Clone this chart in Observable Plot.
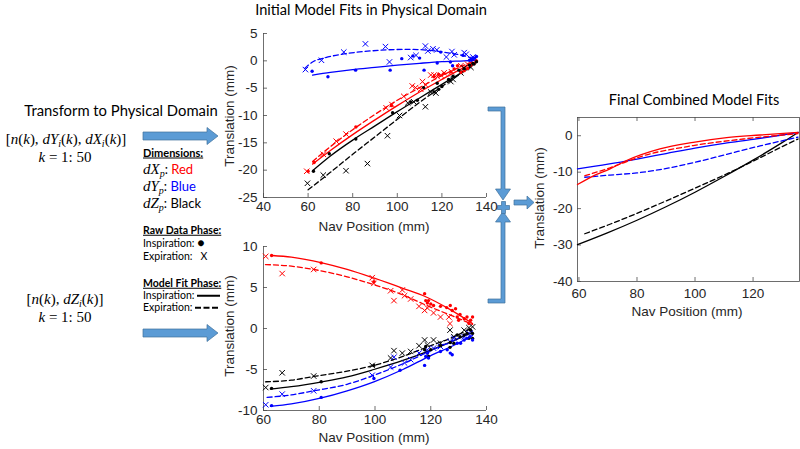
<!DOCTYPE html>
<html><head><meta charset="utf-8">
<script src="https://cdn.jsdelivr.net/npm/d3@7"></script>
<script src="https://cdn.jsdelivr.net/npm/@observablehq/plot@0.6"></script>
<style>
html,body{margin:0;padding:0;background:#fff;}
#root{position:relative;width:800px;height:449px;overflow:hidden;background:#fff;}
.t{position:absolute;white-space:nowrap;line-height:1;}
.c{transform:translate(-50%,-50%);}
.l{transform:translate(0,-50%);}
.cal{font-family:Lato,"Open Sans",sans-serif;color:#000;}
.ari{font-family:"Liberation Sans",Arial,sans-serif;color:#262626;font-size:13px;}
.math{font-family:"Liberation Serif","DejaVu Serif",serif;font-size:15px;line-height:1;}
.math sub,.sb{font-size:10px;line-height:0;vertical-align:baseline;position:relative;top:0.3em;}
.rot{transform:translate(-50%,-50%) rotate(-90deg);}
.hd{font-size:10.5px;font-weight:700;text-decoration:underline;}
.sm{font-size:10.5px;}
</style></head>
<body><div id="root">
<svg width="800" height="449" style="position:absolute;left:0;top:0">
 <g fill="#5b9bd5" stroke="#41719c" stroke-width="0.7">
  <path d="M143,132 H207 V127.5 L218,136 L207,144.5 V140 H143 Z"/>
  <path d="M143,329 H207 V324.5 L218,333 L207,341.5 V337 H143 Z"/>
  <path d="M488,107 H505 V189 H510.5 L503,200 L495.5,189 H501 V111 H488 Z"/>
  <path d="M488,303 H505 V222 H510.5 L503,211.5 L495.5,222 H501 V299 H488 Z"/>
  <path d="M501.5,201.5 h4 v4 h4 v4 h-4 v4 h-4 v-4 h-4 v-4 h4 z"/>
  <path d="M514,200 H527 V196 L534,202.5 L527,209 V205 H514 Z"/>
 </g>
</svg>
<div class="t cal c" style="left:371px;top:10px;font-size:14.6px">Initial Model Fits in Physical Domain</div>
<div class="t cal c" style="left:121px;top:110px;font-size:14.8px">Transform to Physical Domain</div>
<div class="t cal c" style="left:694px;top:100px;font-size:14.5px">Final Combined Model Fits</div>

<div class="t math c" style="left:66px;top:139px">[<i>n</i>(<i>k</i>), <i>dY<sub>i</sub></i>(<i>k</i>), <i>dX<sub>i</sub></i>(<i>k</i>)]</div>
<div class="t math c" style="left:65px;top:157px"><i>k</i> = 1: 50</div>
<div class="t math c" style="left:65px;top:299px">[<i>n</i>(<i>k</i>), <i>dZ<sub>i</sub></i>(<i>k</i>)]</div>
<div class="t math c" style="left:65px;top:317px"><i>k</i> = 1: 50</div>

<div class="t cal l hd" style="left:143px;top:152px;font-size:11px">Dimensions:</div>
<div class="t cal l" style="left:143px;top:169px;font-size:13px"><span class="math"><i>dX<span class="sb">p</span></i></span>: <span style="color:#ff0000">Red</span></div>
<div class="t cal l" style="left:143px;top:186px;font-size:13px"><span class="math"><i>dY<span class="sb">p</span></i></span>: <span style="color:#0000ff">Blue</span></div>
<div class="t cal l" style="left:143px;top:203px;font-size:13px"><span class="math"><i>dZ<span class="sb">p</span></i></span>: Black</div>
<div class="t cal l hd" style="left:143px;top:230px">Raw Data Phase:</div>
<div class="t cal l sm" style="left:143px;top:243px">Inspiration: <span style="font-size:12px">●</span></div>
<div class="t cal l sm" style="left:143px;top:256px">Expiration:&nbsp;&nbsp; X</div>
<div class="t cal l hd" style="left:143px;top:283px">Model Fit Phase:</div>
<div class="t cal l sm" style="left:143px;top:295px">Inspiration: <span style="display:inline-block;width:23px;border-bottom:2px solid #000;vertical-align:middle"></span></div>
<div class="t cal l sm" style="left:143px;top:307px">Expiration: <span style="display:inline-block;width:23px;border-bottom:2px dashed #000;vertical-align:middle"></span></div>

<div class="t ari c" style="left:374px;top:227px;font-size:13.5px">Nav Position (mm)</div>
<div class="t ari c" style="left:374px;top:438px;font-size:13.5px">Nav Position (mm)</div>
<div class="t ari c" style="left:687px;top:312px;font-size:13.5px">Nav Position (mm)</div>
<div class="t ari rot" style="left:230px;top:116px;font-size:13.5px">Translation (mm)</div>
<div class="t ari rot" style="left:230px;top:326px;font-size:13.5px">Translation (mm)</div>
<div class="t ari rot" style="left:540px;top:198px;font-size:13.5px">Translation (mm)</div>
</div>
<script>
const RED="#ff0000", BLUE="#0000ff", BLACK="#000000";

// ---- Top panel (dX, dY, dZ vs Nav) ----
const xTicksTop=[40,60,80,100,120,140], yTicksTop=[-25,-20,-15,-10,-5,0,5];
const topRedIn=[[60,-20.2],[62.7,-18.6],[81.4,-12.1],[97.4,-8.2],[116.4,-2.9],[118.5,-2.5],[121,-2.3],[124,-2.0],[125.5,-1.5],[127,-0.9],[128.5,-2.1],[130,-1.8],[131.5,-1.4],[133,-0.8],[134.5,-0.5],[135.5,0]];
const topRedEx=[[59.4,-20.2],[66.8,-17.1],[72.6,-14.7],[77,-13.4],[95,-8.6],[97.6,-8.0],[102.9,-6.5],[106.7,-4.6],[108.2,-4.9],[110.5,-5.2],[111.3,-3.8],[112.7,-4.4],[115,-2.6],[116.5,-2.6],[118,-2.9],[119.5,-2.6],[121,-2.2],[124.3,-2.0],[128.5,-0.9],[131.5,-0.6]];
const topBlackIn=[[62.4,-20.2],[69.5,-17],[81.4,-14.3],[97.9,-9.5],[106,-7.5],[109,-7.2],[111.8,-4.9],[116.4,-5.7],[117.9,-4.1],[118.6,-5.2],[120,-4.7],[123,-3.4],[125,-2.8],[127.6,-1.7],[130,-1.4],[132.4,-0.8],[133.9,-0.5],[134.4,-0.6],[135.5,-0.15]];
const topBlackEx=[[59.7,-22.4],[66.8,-20.9],[77,-20.1],[86.6,-18.8],[95.6,-13.7],[101,-10],[104.7,-7.7],[107.4,-7.5],[112.6,-8.4],[115,-5.7],[117.3,-5.9],[124,-3.8],[125,-3.4],[128.5,-2.2],[130,-1.3],[133,-1.2]];
const topBlueIn=[[61.8,-1.9],[68.9,-2.9],[81.3,-1.7],[96.8,-1.7],[102,0.4],[107,0.9],[110,0.5],[112,-1.7],[117.9,-0.4],[119.5,1.6],[123.8,-0.2],[124.8,-0.9],[129.4,1.0],[132.4,0.1],[133.2,0.3],[134.7,0.5],[135.5,0.8]];
const topBlueEx=[[58.8,-1.6],[66,0.1],[76,1.6],[85.7,3.1],[94.7,2.6],[96.5,-0.2],[106,0.6],[108.4,1.0],[112.6,2.7],[113.7,1.8],[116,2.2],[117.7,2.0],[122,0.7],[124.5,1.7],[125.5,1.1],[130,1.5],[130.9,1.2],[133.9,0.7],[134.3,0.3]];
const topRedFitIn=[[62,-18.9],[70,-16.4],[80,-13.5],[90,-10.8],[100,-8.2],[110,-5.7],[120,-3.4],[130,-1.2],[135.5,-0.1]];
const topRedFitEx=[[62,-18.4],[70,-15.7],[80,-12.6],[90,-9.8],[100,-7.2],[110,-4.9],[120,-2.7],[130,-0.8],[135.5,0.1]];
const topBlackFitIn=[[62,-20.1],[70,-17.4],[80,-14.5],[90,-11.9],[100,-9.3],[110,-6.8],[120,-4.3],[130,-1.8],[135.5,-0.2]];
const topBlackFitEx=[[60,-23.6],[70,-20.4],[80,-17.1],[90,-13.9],[100,-10.7],[110,-7.6],[120,-4.7],[130,-1.9],[135.5,-0.3]];
const topBlueFitIn=[[62,-2.6],[70,-2.1],[80,-1.6],[90,-1.2],[100,-0.8],[110,-0.45],[120,-0.15],[130,0.0],[135.5,0.1]];
const topBlueFitEx=[[58.5,-1.4],[62,-0.2],[67,0.5],[75,1.2],[85,1.7],[95,2.0],[105,2.1],[115,1.9],[122,1.5],[128,1.1],[132,0.7],[135.5,0.2]];

// ---- Bottom panel ----
const xTicksBot=[60,80,100,120,140], yTicksBot=[-10,-5,0,5,10];
const botRedIn=[[62.9,8.9],[80.7,8.0],[99.6,5.7],[117.8,4.25],[118.2,3.4],[118.8,3.1],[119.2,3.4],[120,3.0],[121,2.8],[123.5,2.7],[125.7,2.55],[127,2.8],[127.7,2.2],[128.9,2.4],[129.5,1.4],[130,1.0],[130.5,1.7],[132,1.2],[133,1.4],[133.7,0.6],[134.3,1.0],[135,1.4]];
const botRedEx=[[60.8,8.8],[66.7,6.7],[78,7.2],[99,6.2],[99.6,5.5],[105.6,4.6],[106.8,3.4],[109.8,4.7],[110.6,4.0],[112.8,3.6],[115.8,2.7],[117.8,2.2],[118.8,2.5],[121,1.9],[123.5,1.4],[126.5,1.4],[126.9,0.6]];
const botBlackIn=[[62.9,-7.3],[80.7,-6.5],[99.6,-4.5],[117.8,-2.6],[118.2,-2.2],[118.8,-3.0],[119.2,-3.4],[120,-2.6],[123.5,-2.1],[126.9,-2.3],[127,-1.7],[128.3,-1.8],[129.5,-0.8],[130.5,-1.0],[132,-0.8],[133,-0.6],[133.7,-1.2],[134.3,-0.2],[135,-0.6],[135,-1.2]];
const botBlackEx=[[60.8,-7.2],[66.7,-5.4],[78,-5.8],[99,-4.5],[105.6,-3.6],[106.8,-2.7],[109.8,-3.0],[112.8,-2.8],[115.8,-2.1],[117.8,-1.4],[118.8,-2.0],[121,-1.4],[123.5,-1.8],[126.9,-0.2],[128.3,-1.0],[132,-0.2],[133.7,0.1],[135,0.2]];
const botBlueIn=[[62.9,-9.4],[80.7,-8.4],[99.6,-6.1],[109,-5.1],[117.8,-4.5],[118.2,-3.4],[118.8,-3.0],[119.2,-3.6],[123.5,-2.8],[125.9,-2.6],[127,-3.0],[127.7,-3.2],[129.5,-1.8],[130.7,-1.8],[132,-1.4],[133,-1.2],[134,-1.0],[135,-1.4]];
const botBlueEx=[[60.8,-9.3],[66.7,-8.0],[78,-7.6],[99,-5.7],[105.6,-4.7],[106.8,-3.5],[110.6,-4.2],[112.8,-3.8],[115.8,-3.0],[118.8,-2.6],[121,-2.4],[123.5,-2.2],[126.9,-1.6],[128.3,-1.2],[132,-1.0],[133.7,-0.6]];
const botRedFitIn=[[63,8.9],[70,8.7],[81,8.0],[90,7.2],[100,6.1],[110,4.9],[118,3.9],[127,2.3],[135,0.6]];
const botRedFitEx=[[60.7,7.8],[70,7.6],[78,7.2],[90,6.3],[100,5.3],[110,4.1],[118.6,2.8],[128,1.5],[135,0.5]];
const botBlackFitIn=[[62.5,-7.4],[70,-7.1],[81,-6.5],[90,-5.9],[99.6,-5.0],[110,-3.9],[118,-2.9],[128,-1.5],[135,-0.45]];
const botBlackFitEx=[[60.7,-6.5],[70,-6.3],[78,-5.85],[90,-5.2],[99.6,-4.5],[110,-3.4],[118,-2.35],[128,-1.05],[135,0.1]];
const botBlueFitIn=[[62.5,-9.5],[70,-9.2],[80.4,-8.5],[90,-7.6],[99.6,-6.5],[110,-5.0],[120,-3.3],[128,-2.1],[135,-0.85]];
const botBlueFitEx=[[61.3,-8.4],[70,-8.1],[78,-7.6],[90,-6.8],[99.6,-5.7],[110,-4.3],[120,-2.7],[128,-1.5],[135,-0.3]];

// ---- Final combined panel ----
const xTicksFin=[60,80,100,120], yTicksFin=[-40,-30,-20,-10,0];
const finRedIn=[[59.5,-13.4],[65,-11],[70.7,-9.1],[76.4,-6.8],[87.9,-3.6],[99.4,-1.8],[110.9,-0.5],[122.4,0.2],[135.5,0.9]];
const finRedEx=[[62,-11],[70.7,-8.8],[82.2,-5.5],[99.4,-2.7],[116.7,-0.9],[135.5,0.6]];
const finBlueIn=[[59.5,-9.1],[70,-7.8],[80,-6.4],[90,-4.9],[100,-3.4],[110,-2.1],[120,-1.0],[130,0.2],[135.5,0.9]];
const finBlueEx=[[62,-11.4],[70.7,-10.8],[80,-10.2],[87.9,-9.3],[99.4,-7.4],[110.9,-5.1],[122.4,-2.8],[135.5,-0.4]];
const finBlackIn=[[59.5,-29.9],[70,-26.6],[80,-23.2],[90,-19.5],[100,-15.5],[110,-11.2],[120,-6.7],[130,-1.9],[135.5,0.9]];
const finBlackEx=[[62,-26.9],[70,-24.5],[80,-21.3],[90,-17.9],[100,-14.4],[110,-10.8],[120,-7.0],[130,-3.0],[135.5,-0.9]];

const root=document.getElementById("root");
const P=d=>d[0], Q=d=>d[1];

function panel(cfg){
  const [fx0,fx1,fy0,fy1]=cfg.frame;
  const m={l:50,r:cfg.box?1:15,t:12,b:40};
  const iw=fx1-fx0, ih=fy1-fy0;
  const width=iw+m.l+m.r, height=ih+m.t+m.b;
  const ax="#4a4a4a", sw=0.8;
  const marks=[];
  if(cfg.box){
    marks.push(Plot.frame({stroke:ax,strokeWidth:sw}));
    marks.push(Plot.tickX(cfg.xTicks,{x:d=>d,insetBottom:ih-4,stroke:ax,strokeWidth:sw}));
  } else {
    marks.push(Plot.ruleX([cfg.xDomain[0]],{stroke:ax,strokeWidth:sw}));
    marks.push(Plot.ruleY([cfg.yDomain[0]],{stroke:ax,strokeWidth:sw}));
  }
  marks.push(Plot.tickX(cfg.xTicks,{x:d=>d,insetTop:ih-4,stroke:ax,strokeWidth:sw}));
  marks.push(Plot.tickY(cfg.yTicks,{y:d=>d,insetRight:iw-4,stroke:ax,strokeWidth:sw}));
  marks.push(Plot.axisX(cfg.xTicks,{tickSize:0,tickPadding:cfg.xPad,tickFormat:d=>String(d),label:null,fontSize:cfg.fs}));
  marks.push(Plot.axisY(cfg.yTicks,{tickSize:0,tickPadding:cfg.yPad,tickFormat:d=>String(d),label:null,fontSize:cfg.fs}));
  for(const f of cfg.fits) marks.push(Plot.line(f.d,{x:P,y:Q,stroke:f.c,strokeWidth:1.3,strokeDasharray:f.dash?"5,3":undefined,curve:"monotone-x"}));
  for(const s of (cfg.xs||[])) marks.push(Plot.dot(s.d,{x:P,y:Q,r:2.6,symbol:"times",stroke:s.c,strokeWidth:1}));
  for(const s of (cfg.dots||[])) marks.push(Plot.dot(s.d,{x:P,y:Q,r:1.7,fill:s.c,stroke:null}));
  const svg=Plot.plot({
    width,height,marginLeft:m.l,marginRight:m.r,marginTop:m.t,marginBottom:m.b,
    x:{domain:cfg.xDomain},y:{domain:cfg.yDomain},
    style:{fontFamily:"'Liberation Sans', Arial, sans-serif",fontSize:cfg.fs+"px",color:"#262626",background:"transparent",overflow:"visible",maxWidth:"none"},
    marks
  });
  svg.style.position="absolute";
  svg.style.left=(fx0-m.l)+"px";
  svg.style.top=(fy0-m.t)+"px";
  root.appendChild(svg);
}

panel({frame:[263,486,33,197],xDomain:[40,140],yDomain:[-25,5],xTicks:xTicksTop,yTicks:yTicksTop,xPad:4,yPad:6,fs:13.5,
  fits:[{d:topBlueFitIn,c:BLUE},{d:topBlueFitEx,c:BLUE,dash:true},{d:topRedFitIn,c:RED},{d:topRedFitEx,c:RED,dash:true},{d:topBlackFitIn,c:BLACK},{d:topBlackFitEx,c:BLACK,dash:true}],
  xs:[{d:topBlueEx,c:BLUE},{d:topRedEx,c:RED},{d:topBlackEx,c:BLACK}],
  dots:[{d:topBlueIn,c:BLUE},{d:topRedIn,c:RED},{d:topBlackIn,c:BLACK}]});

panel({frame:[263,486,246,410],xDomain:[60,140],yDomain:[-10,10],xTicks:xTicksBot,yTicks:yTicksBot,xPad:4,yPad:6,fs:13.5,
  fits:[{d:botRedFitIn,c:RED},{d:botRedFitEx,c:RED,dash:true},{d:botBlackFitIn,c:BLACK},{d:botBlackFitEx,c:BLACK,dash:true},{d:botBlueFitIn,c:BLUE},{d:botBlueFitEx,c:BLUE,dash:true}],
  xs:[{d:botRedEx,c:RED},{d:botBlackEx,c:BLACK},{d:botBlueEx,c:BLUE}],
  dots:[{d:botRedIn,c:RED},{d:botBlackIn,c:BLACK},{d:botBlueIn,c:BLUE}]});

panel({frame:[577,799,117,281],xDomain:[59.5,136],yDomain:[-40,5],xTicks:xTicksFin,yTicks:yTicksFin,xPad:7,yPad:5,fs:13.5,box:true,
  fits:[{d:finBlackIn,c:BLACK},{d:finBlackEx,c:BLACK,dash:true},{d:finBlueIn,c:BLUE},{d:finBlueEx,c:BLUE,dash:true},{d:finRedIn,c:RED},{d:finRedEx,c:RED,dash:true}]});
</script>
</body></html>
